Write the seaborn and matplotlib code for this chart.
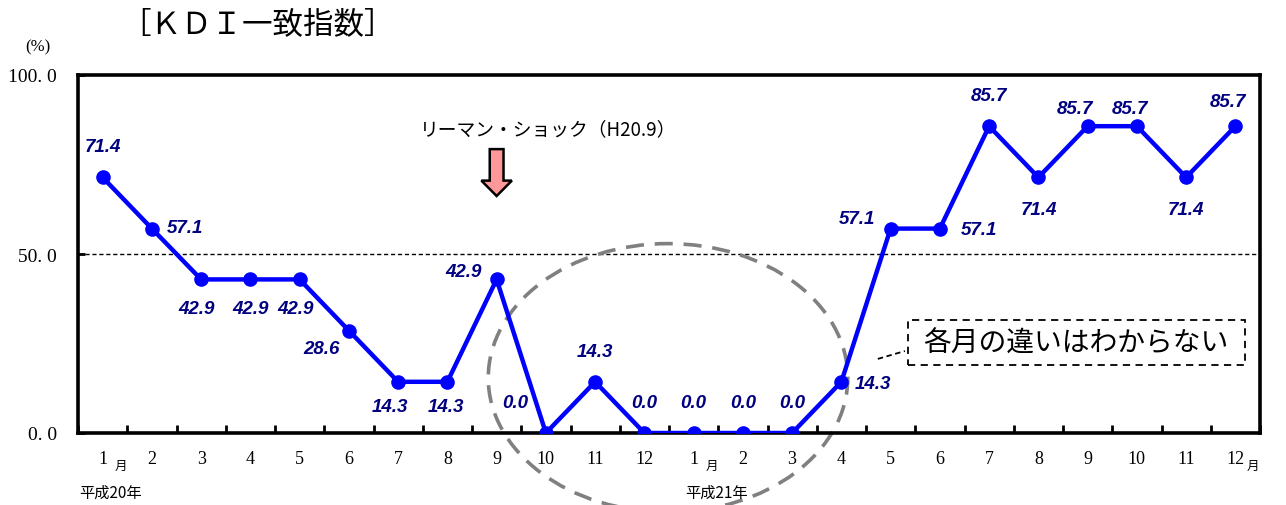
import matplotlib
matplotlib.use("Agg")
import matplotlib.pyplot as plt
import matplotlib.patches as mpatches
import seaborn as sns
import pandas as pd
import numpy as np

# KDI coincident index, Jan 2008 (H20) - Dec 2009 (H21)
months = [1, 2, 3, 4, 5, 6, 7, 8, 9, 10, 11, 12,
          1, 2, 3, 4, 5, 6, 7, 8, 9, 10, 11, 12]
kdi = [71.4, 57.1, 42.9, 42.9, 42.9, 28.6, 14.3, 14.3, 42.9, 0.0, 14.3, 0.0,
       0.0, 0.0, 0.0, 14.3, 57.1, 57.1, 85.7, 71.4, 85.7, 85.7, 71.4, 85.7]
year_labels = ["平成20年", "平成21年"]
title = "［ＫＤＩ一致指数］"
event_label = "リーマン・ショック（H20.9）"
note_label = "各月の違いはわからない"

# value-label offsets (points) relative to each marker
label_offsets = [(0, 22), (24, 1), (-3, -21), (0, -21), (-3, -21), (-20, -13),
                 (-6, -18), (-1, -18), (-24, 6), (-22, 22), (0, 22), (0, 22),
                 (0, 22), (0, 22), (0, 22), (23, -1), (-24, 7), (28, -1),
                 (0, 22), (0, -23), (-9, 13), (-5, 13), (0, -23), (-5, 18)]

sns.set_theme(style="white")
plt.rcParams["font.family"] = ["Liberation Serif", "Noto Sans CJK JP"]

df = pd.DataFrame({"idx": np.arange(len(kdi)), "value": kdi})

fig = plt.figure(figsize=(12.86, 5.06), dpi=100)
ax = fig.add_axes([78 / 1286, 1 - 434 / 506, (1260 - 78) / 1286, (434 - 76) / 506])

ax.axhline(50, color="black", lw=1.0, ls=(0, (3, 2)), zorder=1)

sns.lineplot(data=df, x="idx", y="value", ax=ax, color="#0000FF", lw=3.2,
             marker="o", markersize=10.5, markeredgewidth=0, zorder=3)

for i, (v, off) in enumerate(zip(kdi, label_offsets)):
    ax.annotate(f"{v:.1f}", (i, v), xytext=off, textcoords="offset points",
                ha="center", va="center", fontsize=13.5, fontweight="bold",
                fontstyle="italic", family="Liberation Sans", color="#000080")

ax.set_xlim(-0.5, len(kdi) - 0.5)
ax.set_ylim(0, 100)
ax.set_xlabel("")
ax.set_ylabel("")

ax.set_xticks(np.arange(len(kdi)))
ax.set_xticklabels([str(m) for m in months], fontsize=13)
ax.set_xticks(np.arange(-0.5, len(kdi)), minor=True)
ax.tick_params(axis="x", which="major", length=0, pad=12, colors="black")
ax.tick_params(axis="x", which="minor", length=6, width=2, direction="in",
               color="black", bottom=True)
ax.set_yticks([0, 50, 100])
ax.set_yticklabels(["0. 0", "50. 0", "100. 0"], fontsize=14)
ax.tick_params(axis="y", length=5, width=2, direction="in", left=True,
               pad=15, colors="black")

for s in ax.spines.values():
    s.set_visible(True)
    s.set_color("black")
    s.set_linewidth(2.6)

# small "月" markers after month numbers
xt = ax.get_xaxis_transform()
for xm in (0, 12, 23):
    ax.text(xm + 0.36, -0.09, "月", transform=xt, ha="center", va="center",
            fontsize=9, family="Noto Sans CJK JP", color="black")

ax.text(-0.47, -0.165, year_labels[0], transform=xt, ha="left", va="center",
        fontsize=11, family="Noto Sans CJK JP", color="black")
ax.text(11.83, -0.165, year_labels[1], transform=xt, ha="left", va="center",
        fontsize=11, family="Noto Sans CJK JP", color="black")

# highlighted period
ell = mpatches.Ellipse((11.48, 15.4), 7.3, 75, fill=False, edgecolor="#808080",
                       lw=2.6, ls=(0, (5, 3)), clip_on=False, zorder=2)
ax.add_patch(ell)

# event arrow and label
arrow = mpatches.FancyArrow(8, 79.3, 0, -13.1, width=0.28, head_width=0.62,
                            head_length=4.3, length_includes_head=True,
                            facecolor="#FF9999", edgecolor="black", lw=1.8,
                            zorder=4)
ax.add_patch(arrow)
ax.text(9.04, 84.9, event_label, ha="center", va="center", fontsize=13.5,
        family="Noto Sans CJK JP", color="black")

# note box with leader
note_box = mpatches.Rectangle((16.35, 19.0), 23.19 - 16.35, 31.6 - 19.0,
                              facecolor="white", edgecolor="black", lw=1.3,
                              ls=(0, (4, 3)), zorder=5)
ax.add_patch(note_box)
ax.text(19.77, 25.3, note_label, ha="center", va="center", fontsize=20,
        family="Noto Sans CJK JP", color="black", zorder=6)
ax.plot([15.74, 16.29], [20.7, 22.9], color="black", lw=1.3, ls=(0, (3, 2)),
        zorder=5)

fig.text(257 / 1286, 1 - 25 / 506, title, ha="center", va="center",
         fontsize=22, family="Noto Sans CJK JP", color="black")
fig.text(38 / 1286, 1 - 47 / 506, "(%)", ha="center", va="center",
         fontsize=12, family="Liberation Serif", color="black")

fig.savefig("out.png", dpi=100, facecolor="white")
